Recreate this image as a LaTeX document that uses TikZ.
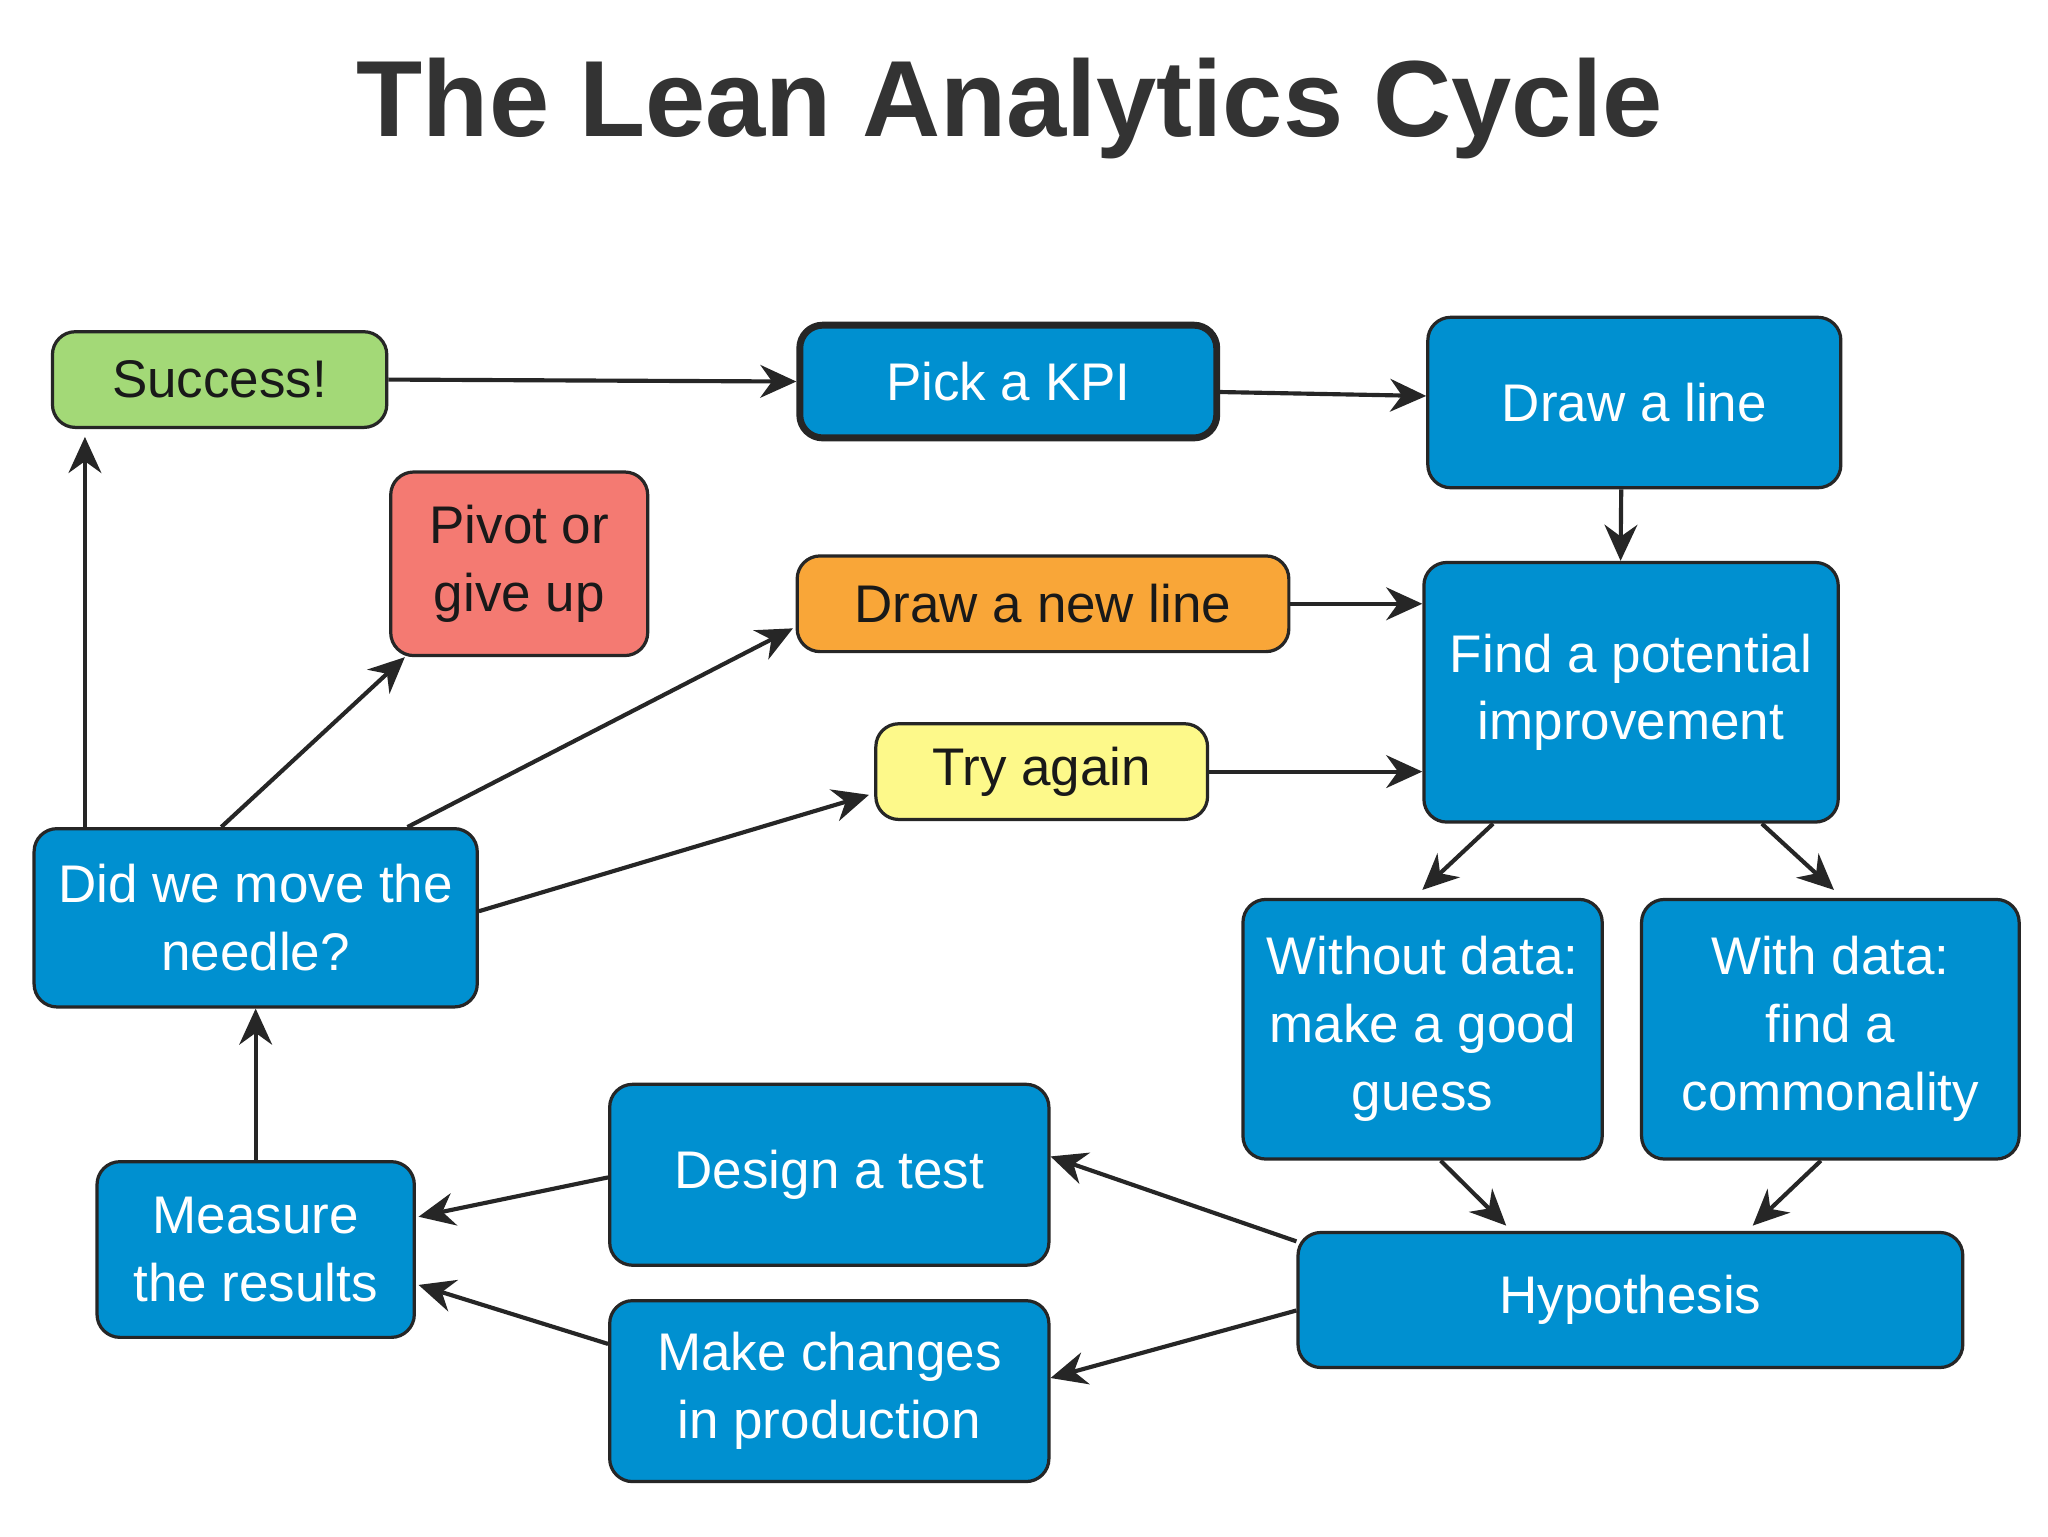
\documentclass[tikz,border=0pt]{standalone}
\usepackage{fontspec}
\setmainfont{Liberation Sans}
\usetikzlibrary{calc,arrows.meta}
\definecolor{bl}{HTML}{0090D0}
\definecolor{gr}{HTML}{A3D977}
\definecolor{rd}{HTML}{F47A72}
\definecolor{og}{HTML}{F9A638}
\definecolor{yl}{HTML}{FDF98A}
\tikzset{
 box/.style={draw=black!85,line width=1.4pt,rounded corners=0.35cm,fill=bl,text=white,align=center,inner sep=0pt,
   font=\fontsize{23pt}{29.5pt}\selectfont},
 lt/.style={text=black!90},
 arr/.style={-{Stealth[length=0.55cm,width=0.5cm]},line width=1.8pt,draw=black!85}
}
\newcommand\bx[7]{\node[box,#6,minimum width={(#4-#2)*0.02cm},minimum height={(#5-#3)*0.02cm}] (#1) at ({(#2+#4)/2},{(#3+#5)/2}) {#7};}
\begin{document}
\begin{tikzpicture}[x=0.02cm,y=-0.02cm]
\useasboundingbox[fill=white] (0,0) rectangle (1562,1172);
\node[font=\bfseries\fontsize{47pt}{50pt}\selectfont,text=black!80] (title) at (770,83) {The Lean Analytics Cycle};
\bx{success}{40}{253}{295}{326}{fill=gr,lt}{Success!}
\bx{pick}{610}{248}{928}{334}{line width=3pt}{Pick a KPI}
\bx{draw}{1089}{242}{1404}{372}{}{Draw a line}
\bx{pivot}{298}{360}{494}{500}{fill=rd,lt}{Pivot or\\give up}
\bx{newline}{608}{424}{983}{497}{fill=og,lt}{Draw a new line}
\bx{try}{668}{552}{921}{625}{fill=yl,lt}{Try again}
\bx{find}{1086}{429}{1402}{627}{}{Find a potential\\improvement}
\bx{did}{26}{632}{364}{768}{}{Did we move the\\needle?}
\bx{without}{948}{686}{1222}{884}{}{Without data:\\make a good\\guess}
\bx{with}{1252}{686}{1540}{884}{}{With data:\\find a\\commonality}
\bx{design}{465}{827}{800}{965}{}{Design a test}
\bx{hyp}{990}{940}{1497}{1043}{}{Hypothesis}
\bx{measure}{74}{886}{316}{1020}{}{Measure\\the results}
\bx{make}{465}{992}{800}{1130}{}{Make changes\\in production}
\draw[arr] (success.east) -- (pick.west);
\draw[arr] ($(pick.east)+(0,8)$) -- ($(draw.west)+(0,-5)$);
\draw[arr] ($(draw.south)+(-10,0)$) -- ($(find.north)+(-8,0)$);
\draw[arr] (newline.east) -- (newline.east -| find.west);
\draw[arr] (try.east) -- (try.east -| find.west);
\draw[arr] ($(find.south west)+(54,0)$) -- ($(without.north west)+(138,-6)$);
\draw[arr] ($(find.south west)+(259,0)$) -- ($(with.north west)+(148,-6)$);
\draw[arr] ($(without.south west)+(152,0)$) -- ($(hyp.north west)+(160,-4)$);
\draw[arr] ($(with.south west)+(138,0)$) -- ($(hyp.north west)+(348,-4)$);
\draw[arr] ($(hyp.north west)+(0,8)$) -- ($(design.east)+(0,-14)$);
\draw[arr] ($(hyp.west)+(0,8)$) -- ($(make.east)+(0,-10)$);
\draw[arr] ($(design.west)+(0,2)$) -- ($(measure.east)+(2,-25)$);
\draw[arr] ($(make.west)+(0,-36)$) -- ($(measure.east)+(2,27)$);
\draw[arr] (measure.north) -- (did.south);
\draw[arr] ($(did.north west)+(40,0)$) -- ($(success.south west)+(26,6)$);
\draw[arr] ($(did.north west)+(144,0)$) -- ($(pivot.south west)+(12,0)$);
\draw[arr] ($(did.north west)+(286,0)$) -- ($(newline.south west)+(-2,-19)$);
\draw[arr] ($(did.east)+(0,-5)$) -- ($(try.south west)+(-4,-20)$);
\end{tikzpicture}
\end{document}
